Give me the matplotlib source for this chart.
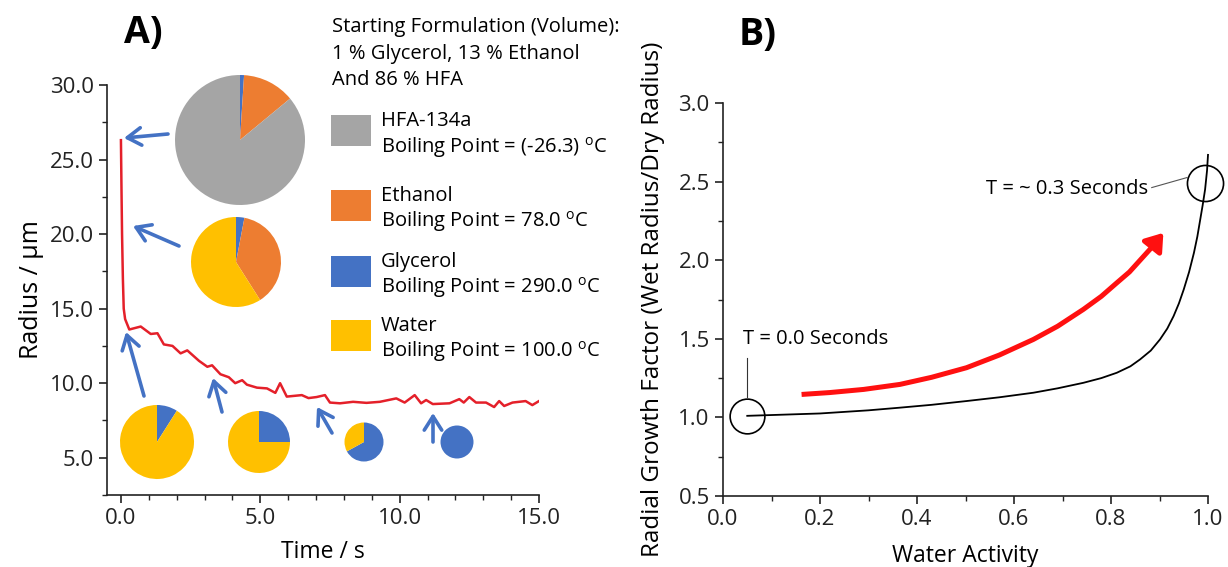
import matplotlib.pyplot as plt
from matplotlib.patches import Rectangle, FancyArrowPatch
from matplotlib.ticker import MultipleLocator

plt.rcParams['font.family'] = ['Open Sans', 'DejaVu Sans']
plt.rcParams['mathtext.fontset'] = 'custom'
plt.rcParams['mathtext.rm'] = 'Open Sans'

W, H = 1228, 567

# droplet radius during evaporation
time_s = [0.0, 0.02, 0.04, 0.07, 0.1, 0.15, 0.3, 0.71, 1.07, 1.31, 1.54, 1.85, 2.14, 2.38,
          2.8, 3.1, 3.27, 3.57, 3.87, 4.1, 4.35, 4.52, 4.88, 5.24, 5.54, 5.71, 5.95,
          6.49, 6.73, 7.02, 7.32, 7.5, 7.86, 8.33, 8.81, 9.29, 9.88, 10.18, 10.54,
          10.77, 10.95, 11.19, 11.79, 12.14, 12.3, 12.5, 12.74, 13.1, 13.39, 13.57,
          13.75, 14.05, 14.52, 14.76, 15.0]
radius_um = [26.3, 23.0, 20.0, 17.0, 15.0, 14.3, 13.6, 13.8, 13.3, 13.35, 12.6, 12.5, 12.0, 12.2,
             11.5, 11.1, 11.2, 10.6, 10.4, 10.0, 10.2, 9.9, 9.7, 9.65, 9.35, 10.0, 9.1,
             9.2, 9.0, 9.07, 9.2, 8.7, 8.65, 8.75, 8.68, 8.75, 8.98, 8.7, 9.2,
             8.65, 8.87, 8.6, 8.65, 8.93, 8.7, 9.07, 8.7, 8.7, 8.4, 8.8,
             8.47, 8.7, 8.8, 8.53, 8.8]

# components: name, boiling point, colour
components = ['HFA-134a', 'Ethanol', 'Glycerol', 'Water']
boiling_points = ['(-26.3)', '78.0', '290.0', '100.0']
comp_colors = ['#A5A5A5', '#ED7D31', '#4472C4', '#FFC000']

# droplet composition snapshots, % by volume
glycerol_pct = [1, 3, 9, 25, 67, 100]
ethanol_pct = [13, 38, 0, 0, 0, 0]
hfa_pct = [86, 0, 0, 0, 0, 0]
water_pct = [0, 59, 91, 75, 33, 0]

# growth factor vs water activity
water_activity = [0.05, 0.2, 0.3, 0.365, 0.43, 0.502, 0.57, 0.64, 0.69, 0.743, 0.78, 0.812,
                  0.84, 0.86, 0.882, 0.901, 0.916, 0.929, 0.94, 0.95, 0.961, 0.971, 0.978,
                  0.984, 0.989, 0.994, 0.998, 1.0]
growth_factor = [1.01, 1.025, 1.045, 1.062, 1.08, 1.104, 1.128, 1.157, 1.185, 1.22, 1.25, 1.284,
                 1.325, 1.369, 1.425, 1.496, 1.565, 1.644, 1.725, 1.814, 1.925, 2.047, 2.15,
                 2.259, 2.35, 2.45, 2.57, 2.67]
trend_aw = [0.162, 0.22, 0.29, 0.365, 0.43, 0.502, 0.57, 0.64, 0.69, 0.743, 0.78, 0.812,
            0.838, 0.86, 0.885, 0.908]
trend_gf = [1.146, 1.158, 1.178, 1.21, 1.255, 1.316, 1.397, 1.496, 1.58, 1.687, 1.77, 1.856,
            1.925, 2.0, 2.085, 2.174]

t0_point = (0.05, 1.01)
t_end_point = (0.994, 2.49)


def fx(x):
    return x / W


def fy(y):
    return 1 - y / H


fig = plt.figure(figsize=(12.28, 5.67), dpi=100)

# ---------- panel A ----------
axA = fig.add_axes([fx(107), fy(495), fx(539) - fx(107), fy(85) - fy(495)])
axA.plot(time_s, radius_um, color='#E4202A', lw=1.8)
axA.set_xlim(-0.5, 15)
axA.set_ylim(2.5, 30)
axA.xaxis.set_minor_locator(MultipleLocator(1))
axA.yaxis.set_minor_locator(MultipleLocator(2.5))
axA.set_xticks([0, 5, 10, 15])
axA.set_xticklabels(['0.0', '5.0', '10.0', '15.0'])
axA.set_yticks([5, 10, 15, 20, 25, 30])
axA.set_yticklabels(['5.0', '10.0', '15.0', '20.0', '25.0', '30.0'])
axA.set_xlabel('Time / s', fontsize=16.5, labelpad=8)
axA.set_ylabel('Radius / µm', fontsize=18, labelpad=4)

# ---------- panel B ----------
axB = fig.add_axes([fx(723), fy(496), fx(1208) - fx(723), fy(103) - fy(496)])
axB.plot(water_activity, growth_factor, color='black', lw=1.3, clip_on=False)
axB.plot(trend_aw[:-1], trend_gf[:-1], color='#FF1010', lw=3.6, solid_capstyle='butt')
axB.annotate('', xy=(trend_aw[-1], trend_gf[-1]), xytext=(trend_aw[-2], trend_gf[-2]),
             arrowprops=dict(arrowstyle='-|>,head_length=0.5,head_width=0.35',
                             color='#FF1010', lw=3.6, mutation_scale=20,
                             shrinkA=0, shrinkB=0))
axB.plot(*t0_point, 'o', ms=25, mfc='none', mec='black', mew=1.2, clip_on=False)
axB.plot(*t_end_point, 'o', ms=26, mfc='none', mec='black', mew=1.2, clip_on=False)
axB.plot([0.05, 0.05], [1.127, 1.38], color='#333333', lw=0.8)
axB.text(0.041, 1.496, 'T = 0.0 Seconds', fontsize=14.5, ha='left', va='center')
axB.plot([0.884, 0.957], [2.462, 2.526], color='#555555', lw=0.8)
axB.text(0.877, 2.45, 'T = ~ 0.3 Seconds', fontsize=14.5, ha='right', va='center')
axB.set_xlim(0, 1)
axB.set_ylim(0.5, 3)
axB.xaxis.set_major_locator(MultipleLocator(0.2))
axB.xaxis.set_minor_locator(MultipleLocator(0.1))
axB.yaxis.set_major_locator(MultipleLocator(0.5))
axB.yaxis.set_minor_locator(MultipleLocator(0.25))
axB.xaxis.set_major_formatter('{x:.1f}')
axB.yaxis.set_major_formatter('{x:.1f}')
axB.set_xlabel('Water Activity', fontsize=16.5, labelpad=10)
axB.set_ylabel('Radial Growth Factor (Wet Radius/Dry Radius)', fontsize=17.5, labelpad=10)

for ax in (axA, axB):
    for side in ('top', 'right'):
        ax.spines[side].set_visible(False)
    for side in ('left', 'bottom'):
        ax.spines[side].set_linewidth(1.2)
        ax.spines[side].set_color('#222222')
    ax.tick_params(which='major', direction='out', length=6, width=1.2, labelsize=16,
                   color='#222222', labelcolor='#222222')
    ax.tick_params(which='minor', direction='out', length=3.5, width=1.0, color='#222222')

# ---------- composition pies ----------
pie_centers = [(240, 140), (236, 262), (157, 442), (259, 442), (364, 442), (457, 442)]
pie_radii = [65, 45, 37, 31, 19.5, 16.5]
pie_colors = [comp_colors[2], comp_colors[1], comp_colors[0], comp_colors[3]]
for i, (cx, cy) in enumerate(pie_centers):
    r = pie_radii[i]
    vals = [glycerol_pct[i], ethanol_pct[i], hfa_pct[i], water_pct[i]]
    keep = [k for k, v in enumerate(vals) if v > 0]
    pax = fig.add_axes([fx(cx - r), fy(cy + r), 2 * r / W, 2 * r / H])
    pax.pie([vals[k] for k in keep], colors=[pie_colors[k] for k in keep],
            startangle=90, counterclock=False, radius=1.0)
    pax.set_xlim(-1, 1)
    pax.set_ylim(-1, 1)
    pax.set_aspect('auto')
    pax.axis('off')

# arrows from pies to the curve
arrow_from = [(168, 134), (179, 246), (144, 396), (222, 412), (332, 433), (433, 442)]
arrow_to = [(124, 138), (133, 226), (126, 332), (213, 378), (317, 407), (433, 413)]
for (x0, y0), (x1, y1) in zip(arrow_from, arrow_to):
    fig.add_artist(FancyArrowPatch(
        (fx(x0), fy(y0)), (fx(x1), fy(y1)), transform=fig.transFigure,
        arrowstyle='->,head_length=0.55,head_width=0.35', mutation_scale=18,
        color='#4472C4', lw=2.6, shrinkA=0, shrinkB=0))

# ---------- legend ----------
fig.text(fx(332), fy(27), 'Starting Formulation (Volume):', fontsize=14.5, va='center')
fig.text(fx(332), fy(54), '1 % Glycerol, 13 % Ethanol', fontsize=14.5, va='center')
fig.text(fx(332), fy(80), 'And 86 % HFA', fontsize=14.5, va='center')
legend_tops = [115, 190, 256, 320]
for name, bp, col, top in zip(components, boiling_points, comp_colors, legend_tops):
    fig.add_artist(Rectangle((fx(331), fy(top + 31)), fx(40), 31 / H,
                             transform=fig.transFigure, color=col, lw=0))
    fig.text(fx(381), fy(top + 6), name, fontsize=14.5, va='center')
    fig.text(fx(381), fy(top + 32), 'Boiling Point = ' + bp + r' $^{\mathrm{o}}$C',
             fontsize=14.5, va='center')

fig.text(fx(143), fy(33), 'A)', fontsize=27, fontweight='bold', ha='center', va='center')
fig.text(fx(758), fy(35), 'B)', fontsize=27, fontweight='bold', ha='center', va='center')

fig.savefig('out.png', dpi=100)
